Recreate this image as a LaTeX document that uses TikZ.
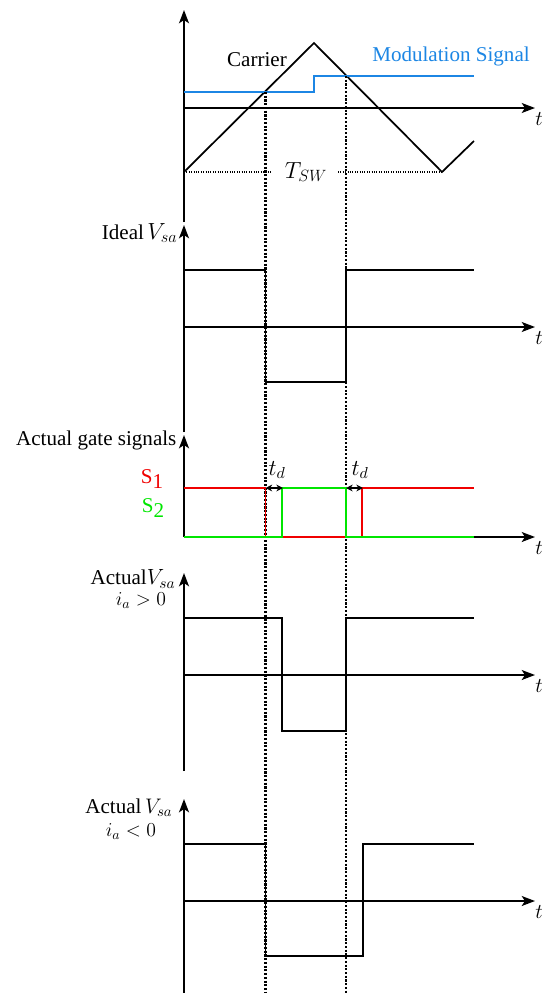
\RequirePackage{fix-cm}
\documentclass[tikz,border=0pt]{standalone}
\usepackage{fontspec}
\setmainfont{Liberation Serif}
\usetikzlibrary{arrows.meta}
\definecolor{modblue}{RGB}{28,134,228}
\definecolor{gatered}{RGB}{240,0,0}
\definecolor{gategreen}{RGB}{0,230,0}
% math set in a chosen size inside a label
\newcommand{\mathat}[2]{{\fontsize{#1}{#1}\selectfont$#2$}}
\tikzset{
  every node/.style={font=\fontsize{15.8pt}{19pt}\selectfont, inner sep=1pt},
  axis/.style={line width=1.3pt, -{Stealth[length=10pt,width=7.5pt,inset=2.5pt]}},
  wave/.style={line width=1.3pt, line join=miter},
  guide/.style={line width=1.6pt, dash pattern=on 1.6pt off 1.2pt},
  spanline/.style={line width=0.8pt, dash pattern=on 0.8pt off 1pt},
  gate/.style={line width=1.3pt},
  delay/.style={line width=1pt, {Stealth[length=5pt,width=5pt]}-{Stealth[length=5pt,width=5pt]}},
}
\begin{document}
\begin{tikzpicture}[x=0.75pt, y=-0.75pt]
\useasboundingbox (0,0) rectangle (544,993);

% ---------- carrier and modulation signal ----------
\coordinate (o1) at (184,108);
\draw[axis] (184,222) -- (184,10);
\draw[axis] (o1) -- (535,108);
\node (t1) at (539,119) {\mathat{15.8}{t}};
\draw[wave] (184,172) -- (314,43) -- (442,172) -- (474,141);
\draw[wave, modblue] (184,92) -- (314,92) -- (314,76) -- (474,76);
\node (carrier) at (257,60) {Carrier};
\node[text=modblue] (mod) at (451,56) {Modulation Signal};

% switching period
\node[inner sep=0pt] (tsw) at (306,172) {\mathat{17.5}{T_{SW}}};
\coordinate (tswL) at (184,172);
\coordinate (tswR) at (442,172);
\draw[spanline] (tswL) -- ([xshift=-9pt]tsw.west);
\draw[spanline] ([xshift=8pt]tsw.east) -- (tswR);

% switching instants
\coordinate (c1) at (265.5,92);
\coordinate (c2) at (346,76);
\draw[guide] (c1) -- (265.5,993);
\draw[guide] (c2) -- (346,993);

% ---------- ideal output voltage ----------
\draw[axis] (184,432) -- (184,225);
\draw[axis] (184,327) -- (535,327);
\node (t2) at (539,338) {\mathat{15.8}{t}};
\node[anchor=east] (ideal) at (179,233) {Ideal\,\mathat{17.5}{V_{sa}}};
\draw[wave] (184,270) -- (265.5,270) -- (265.5,382) -- (346,382) -- (346,270) -- (474,270);

% ---------- gate signals ----------
\draw[axis] (184,537) -- (184,435);
\draw[axis] (184,537) -- (535,537);
\node (t3) at (539,548) {\mathat{15.8}{t}};
\node[anchor=east] (gates) at (178,440) {Actual gate signals};
\node[text=gatered] (s1) at (152,479) {S\raisebox{-4pt}{1}};
\node[text=gategreen] (s2) at (153,508) {S\raisebox{-4pt}{2}};
\draw[gate, gatered] (184,488) -- (265.5,488) -- (265.5,537) -- (362,537) -- (362,488) -- (474,488);
\draw[gate, gategreen] (184,537) -- (282,537) -- (282,488) -- (346,488) -- (346,537) -- (474,537);
\coordinate (d1a) at (265.5,488);
\coordinate (d1b) at (283,488);
\coordinate (d2a) at (346,488);
\coordinate (d2b) at (363,488);
\draw[delay] (d1a) -- (d1b);
\draw[delay] (d2a) -- (d2b);
\node (td1) at (277,470) {\mathat{17}{t_d}};
\node (td2) at (360,470) {\mathat{17}{t_d}};

% ---------- actual output voltage, positive current ----------
\draw[axis] (184,771) -- (184,573);
\draw[axis] (184,675) -- (535,675);
\node (t4) at (539,686) {\mathat{15.8}{t}};
\node[anchor=east] (act1) at (177,579) {Actual\mathat{16.5}{V_{sa}}};
\node (ia1) at (141,601) {\mathat{14.8}{i_a>0}};
\draw[wave] (184,618) -- (282,618) -- (282,731) -- (346,731) -- (346,618) -- (474,618);

% ---------- actual output voltage, negative current ----------
\draw[axis] (184,993) -- (184,799);
\draw[axis] (184,901) -- (535,901);
\node (t5) at (539,912) {\mathat{15.8}{t}};
\node[anchor=east] (act2) at (174,808) {Actual\,\mathat{15.8}{V_{sa}}};
\node (ia2) at (131,832) {\mathat{14.8}{i_a<0}};
\draw[wave] (184,844) -- (265.5,844) -- (265.5,956) -- (363,956) -- (363,844) -- (474,844);
\end{tikzpicture}
\end{document}
